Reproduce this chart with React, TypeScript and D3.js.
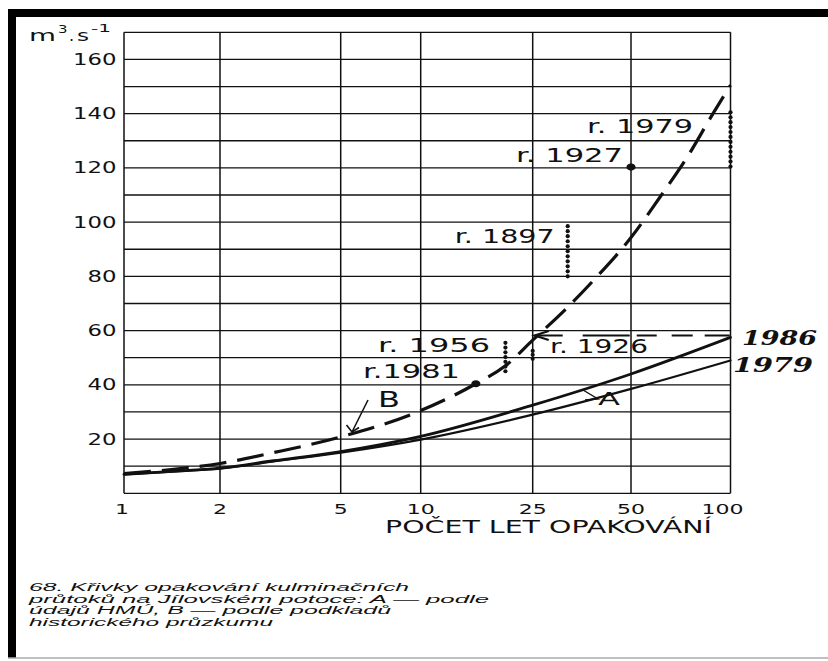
import React from "react";
import * as d3 from "d3";

// ---------- data ----------
const xTickValues = [1, 2, 5, 10, 25, 50, 100];
const xTickLabels = ["1", "2", "5", "10", "25", "50", "100"];
const yTickValues = [20, 40, 60, 80, 100, 120, 140, 160];
const yTickLabels = ["20", "40", "60", "80", "100", "120", "140", "160"];
const yGridValues = [0, 10, 20, 30, 40, 50, 60, 70, 80, 90, 100, 110, 120, 130, 140, 150, 160, 170];

// curve A (HMÚ data), two versions
const curveAPeriods = [1, 1.5, 2, 3, 5, 10, 25, 50, 100];
const curveA1986 = [7, 8.3, 9.3, 12, 15.4, 21, 32.5, 44, 57.5];
const curveA1979 = [7, 8.2, 9.1, 11.8, 15, 19.8, 29, 38.5, 49];
const curveALabels = ["1986", "1979"];

// curve B (historical survey)
const curveBPeriods = [1, 1.5, 2, 3, 5, 10, 15.7, 20, 25, 31, 38.3, 50, 61, 74, 88.5, 100];
const curveBValues = [7.3, 9.1, 11, 15, 20.8, 30.5, 40.4, 47, 56.5, 67, 78.4, 94.3, 109, 124, 140, 150.5];

// historical floods
const eventLabels = ["r. 1979", "r. 1927", "r. 1897", "r. 1956", "r. 1926", "r.1981"];
const eventPeriods = [100, 50, 32, 20, 25, 15.7];
const eventLow = [120.5, 120.3, 80, 45, 49.6, 40.4];
const eventHigh = [140.5, 120.3, 98.5, 55.5, 52.5, 40.4];

const referenceLevel = 58.2; // horizontal dashed line (r. 1926)
const unitParts = ["m", "3", ".", "s", "-1"];
const xAxisTitle = "POČET LET OPAKOVÁNÍ";
const captionLines = [
  "68. Křivky opakování kulminačních",
  "průtoků na Jílovském potoce: A — podle",
  "údajů HMÚ, B — podle podkladů",
  "historického průzkumu",
];

// ---------- layout ----------
const W = 828;
const H = 661;
const INK = "#111";
const FONT = "'DejaVu Sans', sans-serif";

const xs = d3
  .scaleLinear()
  .domain(xTickValues.map(Math.log10))
  .range([124, 220, 340.7, 420.7, 532.7, 631, 730.5]);
const x = (t: number) => xs(Math.log10(t));
const y = d3.scaleLinear().domain([0, 170]).range([493.3, 32.3]);

const line = d3
  .line<[number, number]>()
  .x((d) => x(d[0]))
  .y((d) => y(d[1]))
  .curve(d3.curveMonotoneX);

const eventLabelLayout = [
  { dx: -37.5, dy: 20.7, anchor: "end", w: 106 },
  { dx: -8, dy: -5.3, anchor: "end", w: 107 },
  { dx: -13, dy: 17, anchor: "end", w: 100 },
  { dx: -15.4, dy: 9, anchor: "end", w: 112 },
  { dx: 17.3, dy: 2, anchor: "start", w: 98 },
  { dx: -15.8, dy: -6.2, anchor: "end", w: 97 },
];
const captionWidths = [380, 460, 362, 244];

function WText(props: {
  x: number;
  y: number;
  w?: number;
  size: number;
  children: string;
  anchor?: string;
  italic?: boolean;
  bold?: boolean;
  family?: string;
  adjust?: string;
}) {
  const { w, anchor = "start" } = props;
  let x0 = props.x;
  if (w) {
    if (anchor === "end") x0 = props.x - w;
    else if (anchor === "middle") x0 = props.x - w / 2;
  }
  return (
    <text
      x={x0}
      y={props.y}
      fontSize={props.size}
      fontFamily={props.family || FONT}
      fontStyle={props.italic ? "italic" : "normal"}
      fontWeight={props.bold ? "bold" : "normal"}
      textAnchor={w ? "start" : anchor}
      textLength={w}
      lengthAdjust={w ? props.adjust || "spacingAndGlyphs" : undefined}
      fill={INK}
    >
      {props.children}
    </text>
  );
}

export default function App() {
  const x0 = x(1);
  const x1 = x(100);
  const y0 = y(0);
  const y1 = y(170);

  const aUpper = line(curveAPeriods.map((t, i) => [t, curveA1986[i]] as [number, number])) || "";
  const aLower = line(curveAPeriods.map((t, i) => [t, curveA1979[i]] as [number, number])) || "";
  const bPath = line(curveBPeriods.map((t, i) => [t, curveBValues[i]] as [number, number])) || "";

  const refY = y(referenceLevel);
  const ref25 = x(25);

  return (
    <svg
      width={W}
      height={H}
      style={{ position: "absolute", left: 0, top: 0, background: "#fff" }}
    >
      {/* scan frame */}
      <rect x={8} y={9} width={820} height={8} fill="#000" />
      <rect x={8} y={9} width={8} height={649} fill="#000" />
      <line x1={8} x2={828} y1={658} y2={658} stroke="#aaa" strokeWidth={1.5} />

      {/* grid */}
      {yGridValues.map((v) => (
        <line key={"h" + v} x1={x0} x2={x1} y1={y(v)} y2={y(v)} stroke={INK} strokeWidth={1.3} />
      ))}
      {xTickValues.map((t) => (
        <line key={"v" + t} x1={x(t)} x2={x(t)} y1={y0} y2={y1} stroke={INK} strokeWidth={1.5} />
      ))}

      {/* y tick labels */}
      {yTickValues.map((v, i) => (
        <WText key={"yl" + v} x={116.5} y={y(v) + 5.5} size={15} anchor="end" w={yTickLabels[i].length * 14.5}>
          {yTickLabels[i]}
        </WText>
      ))}

      {/* unit */}
      <WText x={29} y={41} size={16} w={27}>{unitParts[0]}</WText>
      <WText x={58} y={32.5} size={10} w={9.5}>{unitParts[1]}</WText>
      <WText x={69} y={41} size={16}>{unitParts[2]}</WText>
      <WText x={77} y={41} size={16} w={12}>{unitParts[3]}</WText>
      <WText x={91} y={32} size={10.5} w={20}>{unitParts[4]}</WText>

      {/* x tick labels */}
      {xTickValues.map((t, i) => (
        <WText
          key={"xl" + t}
          x={x(t) - (i === xTickValues.length - 1 ? 8 : i === 0 ? 2 : 0)}
          y={513.5}
          size={14}
          anchor="middle"
          w={xTickLabels[i].length * 14}
        >
          {xTickLabels[i]}
        </WText>
      ))}
      <WText x={385} y={533} size={17} w={327}>{xAxisTitle}</WText>

      {/* curve A */}
      <path d={aUpper} fill="none" stroke={INK} strokeWidth={2.8} strokeLinecap="round" />
      <path d={aLower} fill="none" stroke={INK} strokeWidth={2.2} strokeLinecap="round" />
      <WText x={x(100) + 11.5} y={y(curveA1986[curveA1986.length - 1]) + 7.6} size={20} italic bold family="'DejaVu Serif', serif" w={75}>
        {curveALabels[0]}
      </WText>
      <WText x={x(100) + 2.5} y={y(curveA1979[curveA1979.length - 1]) + 11.6} size={20} italic bold family="'DejaVu Serif', serif" w={80}>
        {curveALabels[1]}
      </WText>

      {/* curve B */}
      <path d={bPath} fill="none" stroke={INK} strokeWidth={3.2} strokeDasharray="27 11" />

      {/* reference level line with arrow */}
      <line
        x1={ref25 + 2}
        x2={x1}
        y1={refY}
        y2={refY}
        stroke={INK}
        strokeWidth={2}
        strokeDasharray="28 20 47 7 20 15 21 12 25"
      />
      <path
        d={`M${ref25 + 16},${refY - 4.5} L${ref25 + 2},${refY} L${ref25 + 16},${refY + 4.5}`}
        fill="none"
        stroke={INK}
        strokeWidth={2.2}
      />

      {/* historical events */}
      {eventLabels.map((lab, i) => {
        const cx = x(eventPeriods[i]);
        const top = y(eventHigh[i]);
        const bot = y(eventLow[i]);
        const span = bot - top;
        const dots: number[] = [];
        if (span > 1) {
          const n = Math.max(1, Math.round(span / 5));
          for (let k = 0; k <= n; k++) dots.push(top + (k * span) / n);
        }
        const L = eventLabelLayout[i];
        return (
          <g key={lab}>
            {span > 1 ? (
              dots.map((cy, k) => <circle key={k} cx={cx} cy={cy} r={2.1} fill={INK} />)
            ) : (
              <ellipse cx={cx} cy={top} rx={4.6} ry={3.6} fill={INK} />
            )}
            <WText x={cx + L.dx} y={top + L.dy} size={20} anchor={L.anchor} w={L.w}>
              {lab}
            </WText>
          </g>
        );
      })}

      {/* B label with arrow */}
      <WText x={378} y={406.7} size={22} w={22}>B</WText>
      <path d="M368,400 L352,432" fill="none" stroke={INK} strokeWidth={1.6} />
      <path d="M346.5,425 L352,432 L359,427.5" fill="none" stroke={INK} strokeWidth={1.6} />

      {/* A label with arrow */}
      <WText x={598} y={405} size={18} w={22}>A</WText>
      <path d="M583,390 L598,399 L585,400" fill="none" stroke={INK} strokeWidth={1.4} />

      {/* caption */}
      {captionLines.map((t, i) => (
        <WText
          key={"c" + i}
          x={29}
          y={591 + i * 11.5}
          size={10}
          italic
          family="'Liberation Sans', sans-serif"
          w={captionWidths[i]}
        >
          {t}
        </WText>
      ))}
    </svg>
  );
}
